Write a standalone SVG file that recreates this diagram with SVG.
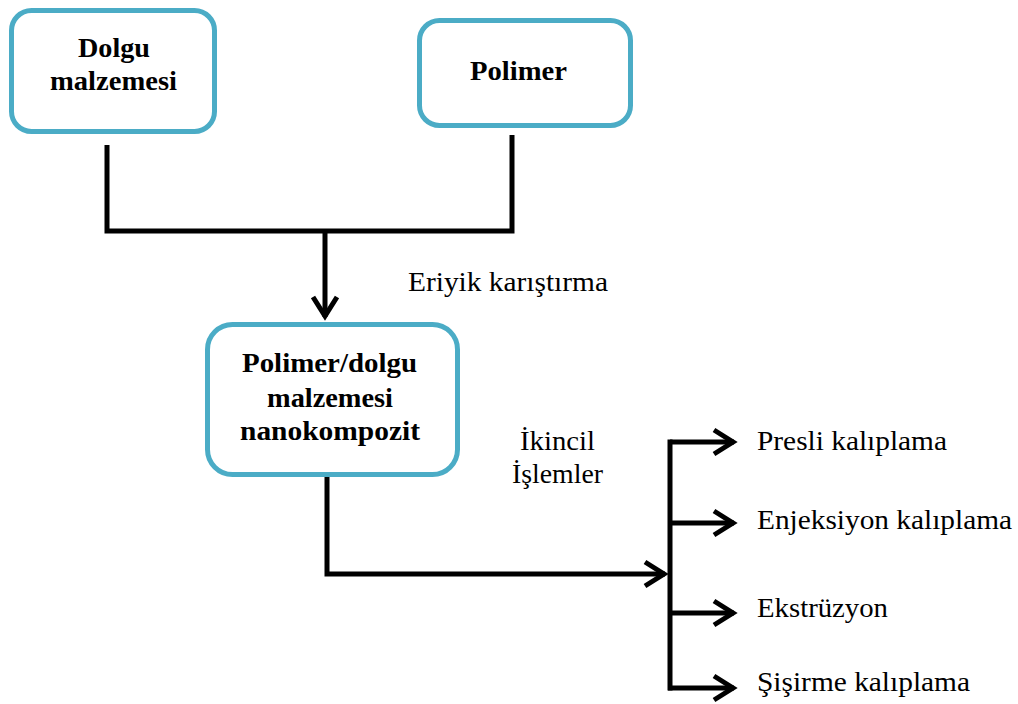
<svg xmlns="http://www.w3.org/2000/svg" width="1018" height="704" viewBox="0 0 1018 704">
<style>
.box{fill:#ffffff;stroke:#4BACC6;stroke-width:5}
.bt{font-family:"Liberation Serif","Times New Roman",serif;font-weight:bold;font-size:28px;fill:#000}
.rt{font-family:"Liberation Serif","Times New Roman",serif;font-size:28px;fill:#000}
.ln{fill:none;stroke:#000;stroke-width:5;stroke-linejoin:miter}
.ar{fill:none;stroke:#000;stroke-width:5;marker-end:url(#chev)}
</style>
<defs>
<marker id="chev" markerUnits="userSpaceOnUse" markerWidth="40" markerHeight="40" refX="30" refY="20" orient="auto" overflow="visible">
<path d="M 10 8 L 29 20 L 10 32" fill="none" stroke="#000" stroke-width="5" stroke-linejoin="miter"/>
</marker>
</defs>
<rect width="1018" height="704" fill="#ffffff"/>
<g id="connectors">
<path class="ln" d="M 107 145 L 107 231 L 512 231 L 512 135"/>
<line class="ar" x1="325" y1="231" x2="325" y2="317"/>
<polyline class="ar" points="327,477 327,574 665,574"/>
<line class="ln" x1="670" y1="439.5" x2="670" y2="690.5"/>
<line class="ar" x1="670" y1="442" x2="734" y2="442"/>
<line class="ar" x1="670" y1="523" x2="734" y2="523"/>
<line class="ar" x1="670" y1="613" x2="734" y2="613"/>
<line class="ar" x1="668" y1="688" x2="734" y2="688"/>
</g>
<g id="node-dolgu">
<rect class="box" x="11.5" y="10.5" width="203" height="121" rx="20"/>
<text class="bt" x="78" y="57" textLength="72" lengthAdjust="spacingAndGlyphs">Dolgu</text>
<text class="bt" x="50" y="90" textLength="127" lengthAdjust="spacingAndGlyphs">malzemesi</text>
</g>
<g id="node-polimer">
<rect class="box" x="419.5" y="20.5" width="211" height="105" rx="20"/>
<text class="bt" x="470" y="80" textLength="97" lengthAdjust="spacingAndGlyphs">Polimer</text>
</g>
<g id="node-nano">
<rect class="box" x="207.5" y="324.5" width="250" height="150" rx="25"/>
<text class="bt" x="242" y="372" textLength="175" lengthAdjust="spacingAndGlyphs">Polimer/dolgu</text>
<text class="bt" x="267" y="407" textLength="126" lengthAdjust="spacingAndGlyphs">malzemesi</text>
<text class="bt" x="240" y="440" textLength="180" lengthAdjust="spacingAndGlyphs">nanokompozit</text>
</g>
<g id="labels">
<text class="rt" x="408" y="291" textLength="200" lengthAdjust="spacingAndGlyphs">Eriyik karıştırma</text>
<text class="rt" x="520" y="450" textLength="75" lengthAdjust="spacingAndGlyphs">İkincil</text>
<text class="rt" x="512" y="483" textLength="91" lengthAdjust="spacingAndGlyphs">İşlemler</text>
</g>
<g id="node-presli">
<text class="rt" x="757" y="450" textLength="190" lengthAdjust="spacingAndGlyphs">Presli kalıplama</text>
</g>
<g id="node-enjeksiyon">
<text class="rt" x="757" y="529" textLength="255" lengthAdjust="spacingAndGlyphs">Enjeksiyon kalıplama</text>
</g>
<g id="node-ekstruzyon">
<text class="rt" x="757" y="617" textLength="131" lengthAdjust="spacingAndGlyphs">Ekstrüzyon</text>
</g>
<g id="node-sisirme">
<text class="rt" x="757" y="691" textLength="213" lengthAdjust="spacingAndGlyphs">Şişirme kalıplama</text>
</g>
</svg>
